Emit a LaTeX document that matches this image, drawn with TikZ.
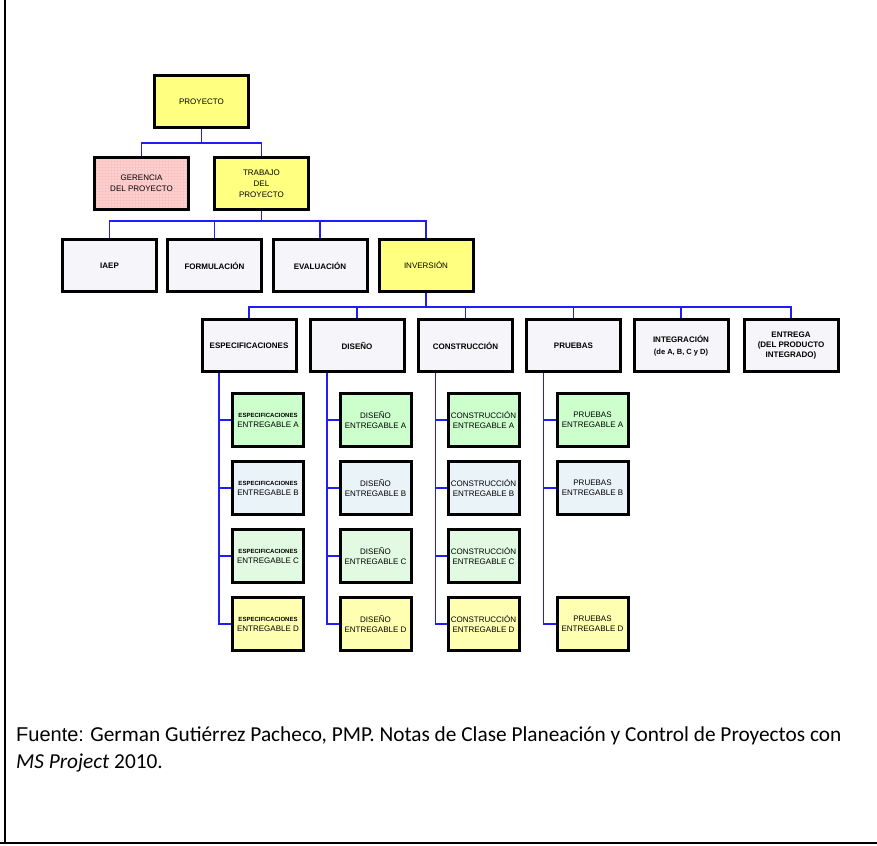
\documentclass[tikz,border=0pt]{standalone}
\usepackage{fontspec}
\setmainfont{Liberation Sans}
\newfontfamily\calibri{Carlito}
\usepackage{tikz}
\usetikzlibrary{patterns}

\definecolor{amarillo}{RGB}{255,255,128}
\definecolor{amarilloD}{RGB}{255,255,178}
\definecolor{rosa}{RGB}{255,208,208}
\definecolor{rejilla}{RGB}{248,196,196}
\definecolor{grisclaro}{RGB}{246,246,250}
\definecolor{verdeA}{RGB}{204,255,204}
\definecolor{verdeC}{RGB}{226,250,226}
\definecolor{celeste}{RGB}{234,243,248}
\definecolor{azul}{RGB}{30,30,245}

\begin{document}
\begin{tikzpicture}[x=1pt, y=-1pt, font=\fontsize{8}{11}\selectfont,
  caja/.style={draw=black, line width=3pt, minimum width=94pt,
    minimum height=52pt, align=center, inner sep=1pt},
  fase/.style={caja, fill=grisclaro, font=\fontsize{8}{11}\selectfont\bfseries},
  hijo/.style={caja, minimum width=71pt, minimum height=53pt,
    font=\fontsize{8}{10}\selectfont},
  enlace/.style={draw=azul, line width=1.5pt}]
  \useasboundingbox (0,0) rectangle (877,845);

  % Frame (left and bottom)
  \draw[line width=2pt] (5,0) -- (5,843);
  \draw[line width=2pt] (0,843) -- (877,843);

  % Level 1 and 2
  \node[caja, fill=amarillo] (proy) at (201.5,101.5) {PROYECTO};
  \node[caja, preaction={fill=rosa}, pattern=grid, pattern color=rejilla]
    (ger) at (141.5,183.5) {GERENCIA\\DEL PROYECTO};
  \node[caja, fill=amarillo] (trab) at (261.5,183.5) {TRABAJO\\DEL\\PROYECTO};

  % Level 3 (y=265.5)
  \node[fase] (iaep) at (109.5,265.5) {IAEP};
  \node[fase] (form) at (214.5,265.5) {FORMULACIÓN};
  \node[fase] (eval) at (320,265.5) {EVALUACIÓN};
  \node[caja, fill=amarillo] (inv) at (426,265.5) {INVERSIÓN};

  % Level 4 (y=345.5)
  \node[fase] (esp) at (249,345.5) {ESPECIFICACIONES};
  \node[fase] (dis) at (357,345.5) {DISEÑO};
  \node[fase] (cons) at (465.5,345.5) {CONSTRUCCIÓN};
  \node[fase] (pru) at (573.5,345.5) {PRUEBAS};
  \node[fase, font=\fontsize{8}{12}\selectfont\bfseries] (integ) at (681,345.5)
    {INTEGRACIÓN\\{\fontsize{7.5}{12}\selectfont(de A, B, C y D)}};
  \node[fase, font=\fontsize{8}{10.3}\selectfont\bfseries] (entr) at (791,345.5)
    {ENTREGA\\(DEL PRODUCTO\\INTEGRADO)};

  % Connectors between levels
  \draw[enlace] (proy.south) -- ++(0,14) coordinate (bus1);
  \draw[enlace] (ger.north) |- (bus1) -| (trab.north);
  \draw[enlace] (trab.south) -- ++(0,10) coordinate (bus2);
  \draw[enlace] (iaep.north) |- (bus2) -| (inv.north);
  \foreach \n in {form,eval}
    \draw[enlace] (\n.north) -- (\n.north |- bus2);
  \draw[enlace] (inv.south) -- ++(0,14) coordinate (bus3);
  \draw[enlace] (esp.north) |- (bus3) -| (entr.north);
  \foreach \n in {dis,cons,pru,integ}
    \draw[enlace] (\n.north) -- (\n.north |- bus3);

  % Deliverables A..D
  \foreach \l/\y/\c in {A/420/verdeA, B/488/celeste, C/556/verdeC, D/624/amarilloD} {
    \node[hijo, fill=\c] (esp\l) at (268,\y)
      {{\fontsize{6}{7}\selectfont\bfseries ESPECIFICACIONES}\\ENTREGABLE \l};
    \node[hijo, fill=\c] (dis\l) at (375.5,\y) {DISEÑO\\ENTREGABLE \l};
    \node[hijo, fill=\c] (cons\l) at (483.5,\y) {CONSTRUCCIÓN\\ENTREGABLE \l};
  }
  \foreach \l/\y/\c in {A/420/verdeA, B/488/celeste, D/624/amarilloD}
    \node[hijo, fill=\c] (pru\l) at (592.5,\y) {PRUEBAS\\ENTREGABLE \l};

  % Column lines and ticks
  \foreach \n in {esp,dis,cons,pru} {
    \coordinate (\n-col) at ([xshift=-30pt]\n.south);
    \draw[enlace] (\n-col) |- (\n D.west);
  }
  \foreach \l in {A,B,C} {
    \draw[enlace] (esp\l.west) -- (esp\l.west -| esp-col);
    \draw[enlace] (dis\l.west) -- (dis\l.west -| dis-col);
    \draw[enlace] (cons\l.west) -- (cons\l.west -| cons-col);
  }
  \foreach \l in {A,B}
    \draw[enlace] (pru\l.west) -- (pru\l.west -| pru-col);

  % Source note
  \node[anchor=base west, inner sep=0pt] (fuente) at (16,741.7)
    {{\fontsize{20}{22}\selectfont Fuente:}\calibri\fontsize{21.3}{24}\selectfont{} German Gutiérrez Pacheco, PMP. Notas de Clase Planeación y Control de Proyectos con};
  \node[anchor=base west, inner sep=0pt] (fuente2) at (16,768)
    {\calibri\fontsize{21.3}{24}\selectfont\textit{MS Project} 2010.};
\end{tikzpicture}
\end{document}
